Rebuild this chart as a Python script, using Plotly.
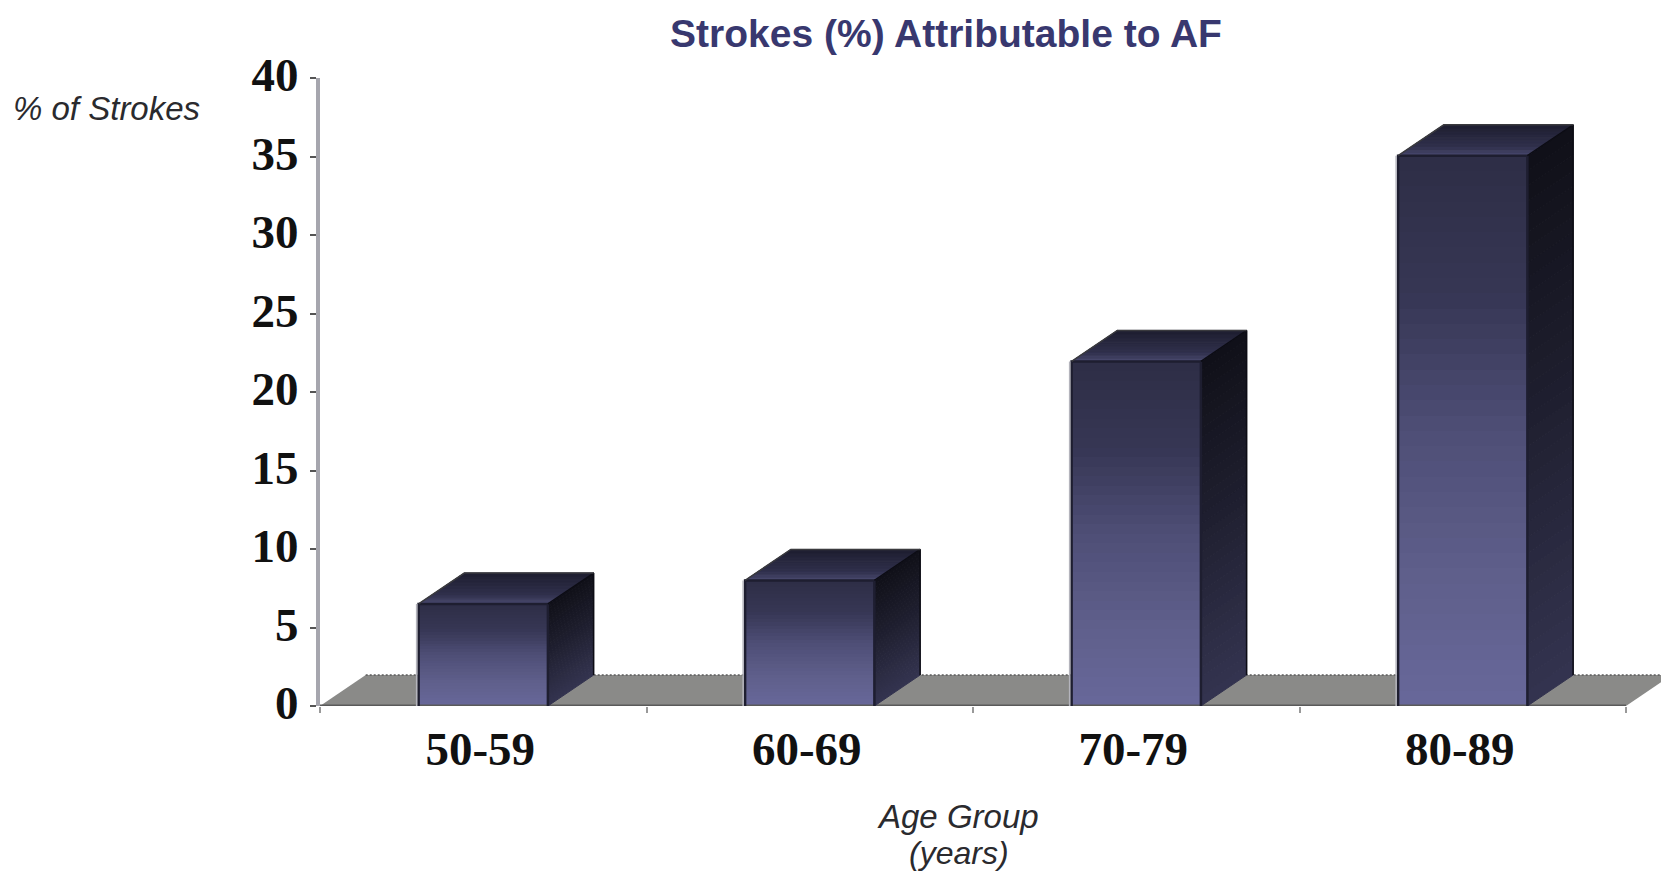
import plotly.graph_objects as go

# ---- data ----
categories = ["50-59", "60-69", "70-79", "80-89"]
values = [6.5, 8.0, 21.95, 35.05]
y_ticks = [0, 5, 10, 15, 20, 25, 30, 35, 40]
title_text = "Strokes (%) Attributable to AF"
y_label = "% of Strokes"
x_label_lines = ["Age Group", "(years)"]

# ---- styling ----
W, H = 1661, 872
PL, PT, PB = 320, 78, 706          # plot left / top / bottom in pixels
CAT_PX = 326.5                     # pixels per category
X_MIN, X_MAX = -0.5, -0.5 + (W - PL) / CAT_PX
BAR_W = 0.396
DX = 0.14                          # depth of the pseudo 3D box, in category units
DY = 1.97                          # depth of the pseudo 3D box, in value units
STEPS = 36
FRONT_STOPS = [(0.0, (46, 46, 70)), (0.25, (54, 54, 84)), (0.50, (78, 78, 118)),
               (0.75, (94, 94, 138)), (1.0, (104, 104, 154))]
SIDE_STOPS = [(0.0, (16, 16, 24)), (0.45, (30, 30, 46)), (1.0, (52, 52, 80))]
TOP_STOPS = [(0.0, (30, 30, 48)), (0.7, (48, 48, 76)), (1.0, (74, 74, 112))]


def ramp(stops, t):
    for (t0, c0), (t1, c1) in zip(stops, stops[1:]):
        if t <= t1:
            f = (t - t0) / (t1 - t0)
            return "rgb(%d,%d,%d)" % tuple(round(a + (b - a) * f) for a, b in zip(c0, c1))
    return "rgb(%d,%d,%d)" % stops[-1][1]


def poly(xs, ys, color):
    return go.Scatter(x=xs + xs[:1], y=ys + ys[:1], mode="lines", fill="toself",
                      fillcolor=color, line=dict(color=color, width=1),
                      hoverinfo="skip", showlegend=False, cliponaxis=False)


def edge(xs, ys, color, width, dash="solid"):
    return go.Scatter(x=xs, y=ys, mode="lines", line=dict(color=color, width=width, dash=dash),
                      hoverinfo="skip", showlegend=False, cliponaxis=False)


fig = go.Figure()

# front faces: each bar is a stack of thin bands to carry the vertical gradient
bx, by, bb, bc = [], [], [], []
for i, v in enumerate(values):
    for s in range(STEPS):
        bx.append(i)
        by.append(v / STEPS)
        bb.append(v * s / STEPS)
        bc.append(ramp(FRONT_STOPS, 1 - (s + 0.5) / STEPS))
fig.add_trace(go.Bar(x=bx, y=by, base=bb, width=BAR_W, marker=dict(color=bc, line=dict(width=0)),
                     hoverinfo="skip", showlegend=False))

# front edge of the floor
fig.add_trace(edge([X_MIN, 3.5], [0, 0], "#5a5a5a", 3))

for i, v in enumerate(values):
    xl, xr = i - BAR_W / 2, i + BAR_W / 2
    # side face
    for s in range(STEPS):
        y1, y2 = v * s / STEPS, v * (s + 1) / STEPS
        fig.add_trace(poly([xr, xr + DX, xr + DX, xr], [y1, y1 + DY, y2 + DY, y2],
                           ramp(SIDE_STOPS, 1 - (s + 0.5) / STEPS)))
    # top face
    for s in range(10):
        t1, t2 = s / 10, (s + 1) / 10
        fig.add_trace(poly([xl + DX * t1, xr + DX * t1, xr + DX * t2, xl + DX * t2],
                           [v + DY * t1, v + DY * t1, v + DY * t2, v + DY * t2],
                           ramp(TOP_STOPS, 1 - (s + 0.5) / 10)))
    # outlines
    fig.add_trace(edge([xl, xl, xr, xr], [0, v, v, 0], "#1e1e30", 2.5))
    fig.add_trace(edge([xr, xr + DX, xr + DX], [v, v + DY, DY], "#0c0c14", 1.5))
    fig.add_trace(edge([xl, xl + DX, xr + DX], [v, v + DY, v + DY], "#3a3a3e", 1.5))
    fig.add_trace(edge([xl - 0.006, xl - 0.006], [0, v], "#b4b4bc", 1.5))

# floor as a shape under the traces
floor_path = "M %f,0 L 3.5,0 L %f,%f L %f,%f Z" % (X_MIN, 3.5 + DX, DY, X_MIN + DX, DY)
shapes = [
    dict(type="path", path=floor_path, xref="x", yref="y", layer="below",
         fillcolor="#8a8a88", line=dict(width=0)),
    dict(type="line", x0=X_MIN + DX, x1=3.5 + DX, y0=DY, y1=DY, xref="x", yref="y", layer="below",
         line=dict(color="#5c5c5c", width=1.5, dash="2px,2px")),
]


def px_x(p):
    return (p - PL) / (W - PL)


def px_y(p):
    return (PB - p) / (PB - PT)


label_font = dict(family="Liberation Sans", color="#2a2a2e")
annotations = [
    dict(text="<i>%s</i>" % y_label, x=px_x(107), y=px_y(108), xref="paper", yref="paper", showarrow=False,
         font=dict(size=33, **label_font), xanchor="center", yanchor="middle"),
    dict(text="<i>%s</i>" % x_label_lines[0], x=px_x(958), y=px_y(816), xref="paper", yref="paper",
         showarrow=False, font=dict(size=33, **label_font), xanchor="center", yanchor="middle"),
    dict(text="<i>%s</i>" % x_label_lines[1], x=px_x(959), y=px_y(853), xref="paper", yref="paper",
         showarrow=False, font=dict(size=32, **label_font), xanchor="center", yanchor="middle"),
]

fig.update_layout(
    width=W, height=H,
    margin=dict(l=PL, r=0, t=PT, b=H - PB, autoexpand=False),
    paper_bgcolor="white", plot_bgcolor="white",
    bargap=0, barmode="overlay",
    showlegend=False,
    title=dict(text="<b>%s</b>" % title_text, x=946 / W, y=1 - 33 / H, xref="container", yref="container",
               xanchor="center", yanchor="middle",
               font=dict(family="Liberation Sans", size=39, color="#38386f")),
    xaxis=dict(range=[X_MIN, X_MAX], tickvals=list(range(len(categories))), ticktext=categories,
               ticks="", showgrid=False, zeroline=False, showline=False, ticklabelstandoff=11,
               ticklabelshift=-3,
               tickfont=dict(family="Liberation Serif", size=47, color="#111111", weight="bold"),
               minor=dict(tickvals=[-0.5, 0.5, 1.5, 2.5, 3.5], ticks="outside", ticklen=6,
                          tickcolor="#999999", tickwidth=2, showgrid=False)),
    yaxis=dict(range=[0, 40], tickvals=y_ticks, ticks="outside", ticklen=6, tickwidth=2, tickcolor="#555555",
               showgrid=False, zeroline=False, showline=True, linecolor="#a6a6ae", linewidth=4,
               ticklabelstandoff=2, ticklabelshift=-3,
               tickfont=dict(family="Liberation Serif", size=47, color="#111111", weight="bold")),
    shapes=shapes,
    annotations=annotations,
)

fig.write_html("out.html", config=dict(displayModeBar=False),
               post_script="document.body.style.margin='0';document.documentElement.style.overflow='hidden';")
